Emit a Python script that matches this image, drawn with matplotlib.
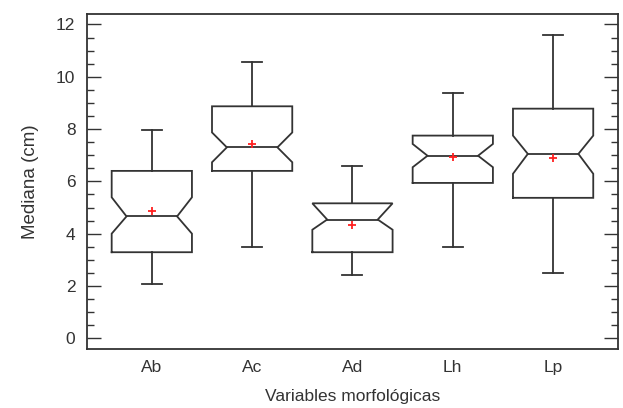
import matplotlib.pyplot as plt
from matplotlib.ticker import MultipleLocator

plt.rcParams['font.family'] = ['Liberation Sans', 'DejaVu Sans']

# Box statistics
categories = ['Ab', 'Ac', 'Ad', 'Lh', 'Lp']
whisker_low = [2.07, 3.48, 2.40, 3.48, 2.51]
q1 = [3.29, 6.40, 3.29, 5.94, 5.37]
medians = [4.66, 7.30, 4.54, 6.98, 7.05]
q3 = [6.40, 8.87, 5.16, 7.75, 8.78]
whisker_high = [7.97, 10.58, 6.58, 9.38, 11.58]
notch_low = [4.00, 6.73, 4.15, 6.54, 6.29]
notch_high = [5.39, 7.87, 5.16, 7.43, 7.75]
means = [4.85, 7.43, 4.34, 6.92, 6.90]

line_color = '#333333'
box_w = 0.8
notch_frac = 0.63
cap_w = 0.2

fig = plt.figure(figsize=(6.23, 4.08), dpi=100)
ax = fig.add_axes([0.139, 0.1453, 0.8535, 0.8204])

for i, name in enumerate(categories):
    x = i + 1
    hw = box_w / 2
    nw = hw * notch_frac
    # notched box outline
    xs = [x - hw, x + hw, x + hw, x + nw, x + hw, x + hw,
          x - hw, x - hw, x - nw, x - hw, x - hw]
    ys = [q1[i], q1[i], notch_low[i], medians[i], notch_high[i], q3[i],
          q3[i], notch_high[i], medians[i], notch_low[i], q1[i]]
    ax.plot(xs, ys, color=line_color, lw=1.3, solid_joinstyle='miter')
    # median line
    ax.plot([x - nw, x + nw], [medians[i], medians[i]], color=line_color, lw=1.3)
    # whiskers and caps
    ax.plot([x, x], [whisker_low[i], q1[i]], color=line_color, lw=1.3)
    ax.plot([x, x], [q3[i], whisker_high[i]], color=line_color, lw=1.3)
    ax.plot([x - cap_w / 2, x + cap_w / 2], [whisker_low[i]] * 2, color=line_color, lw=1.3)
    ax.plot([x - cap_w / 2, x + cap_w / 2], [whisker_high[i]] * 2, color=line_color, lw=1.3)

# means as red crosses
ax.plot(range(1, len(categories) + 1), means, linestyle='none', marker='+',
        color='#ff2020', markersize=6, markeredgewidth=1.3)

ax.set_xlim(0.35, 5.65)
ax.set_ylim(-0.4, 12.4)
ax.set_xticks(range(1, len(categories) + 1))
ax.set_xticklabels(categories)
ax.yaxis.set_major_locator(MultipleLocator(2))
ax.yaxis.set_minor_locator(MultipleLocator(0.5))
ax.tick_params(axis='y', which='both', direction='in', left=True, right=True,
               width=1.0, color=line_color, labelsize=12.5, labelcolor='#333333', pad=8)
ax.tick_params(axis='y', which='major', length=10)
ax.tick_params(axis='y', which='minor', length=5)
ax.tick_params(axis='x', length=0, labelsize=12.5, labelcolor='#333333', pad=8)
for s in ax.spines.values():
    s.set_color(line_color)
    s.set_linewidth(1.3)

ax.set_ylabel('Mediana (cm)', fontsize=13.5, color='#333333', labelpad=12)
ax.set_xlabel('Variables morfológicas', fontsize=12.5, color='#333333', labelpad=10)

fig.savefig('out.png', dpi=100)
